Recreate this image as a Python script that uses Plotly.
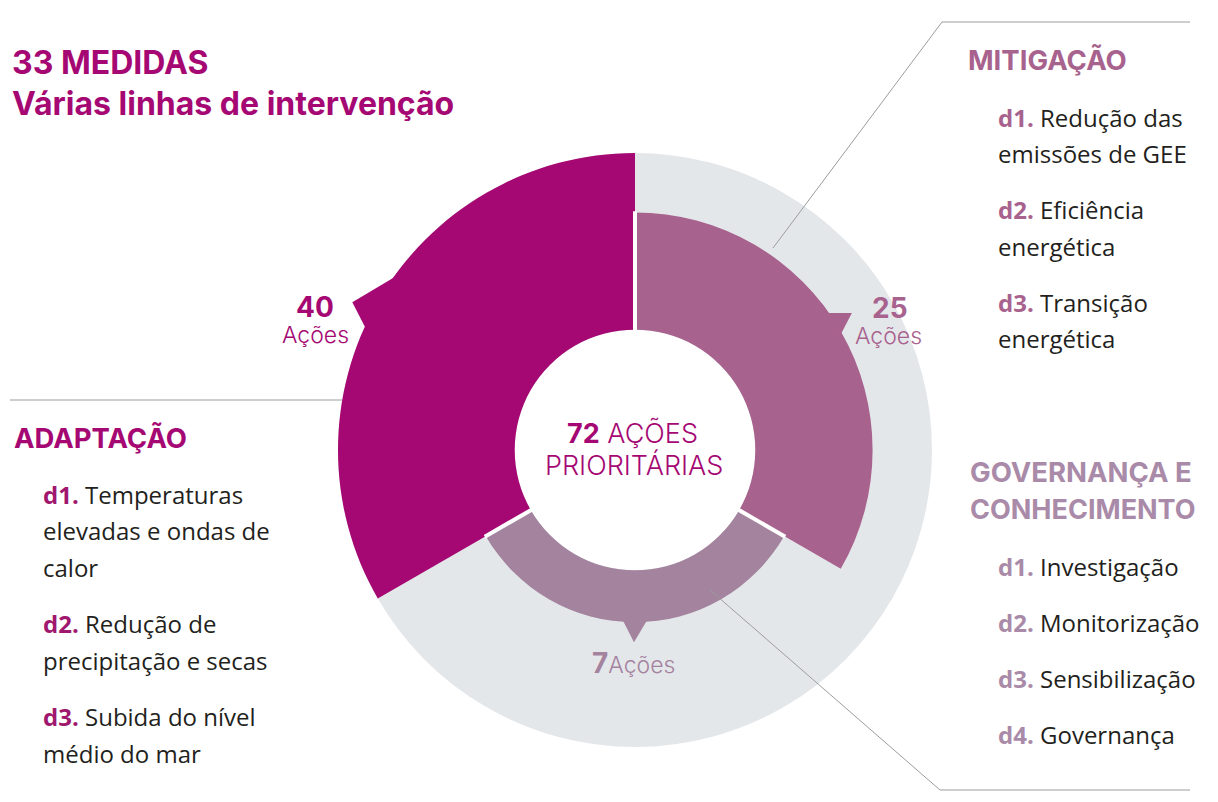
import plotly.graph_objects as go

# ---------------- data ----------------
categories = ["Mitigação", "Governança e Conhecimento", "Adaptação"]
values = [25, 7, 40]                 # ações por eixo
ring_reach = [0.80, 0.58, 1.00]      # outer edge of each sector (grey ring = 1)
total_actions = 72
total_measures = 33

adaptacao_items = [("d1.", ["Temperaturas", "elevadas e ondas de", "calor"]),
                   ("d2.", ["Redução de", "precipitação e secas"]),
                   ("d3.", ["Subida do nível", "médio do mar"])]
mitigacao_items = [("d1.", ["Redução das", "emissões de GEE"]),
                   ("d2.", ["Eficiência", "energética"]),
                   ("d3.", ["Transição", "energética"])]
governanca_items = [("d1.", ["Investigação"]),
                    ("d2.", ["Monitorização"]),
                    ("d3.", ["Sensibilização"]),
                    ("d4.", ["Governança"])]

# ---------------- style ----------------
W, H = 1218, 802
OFF = 8                             # page body margin of the html page
CX, CY, R = 635 - OFF, 450 - OFF, 297   # grey ring centre / radius in px (figure coords)
RMAX = 1.1
RD = R * RMAX
HOLE = 0.405

MAG = "#A50873"
MIT = "#A8628E"
GOV = "#A4839F"
GREY = "#E4E7EA"
MAG_T = "#A50873"
MIT_T = "#A8628E"
GOV_T = "#A98AA8"
MAG_D = "#A0186E"
INK = "#231F20"
LINE = "#9C9C9C"

HEAD = "Inter"
BODY = "Open Sans"

seg_width = 360 / len(categories)
mids = [seg_width / 2 + i * seg_width for i in range(len(categories))]   # 60, 180, 300

fig = go.Figure()

# grey background ring
fig.add_trace(go.Barpolar(theta=mids, r=[1 - HOLE] * 3, base=[HOLE] * 3,
                          width=[seg_width + 1] * 3, marker=dict(color=GREY, line=dict(width=0)),
                          hoverinfo="skip", showlegend=False))
# coloured sectors
fig.add_trace(go.Barpolar(theta=mids, r=[o - HOLE for o in ring_reach], base=[HOLE] * 3,
                          width=[seg_width] * 3, marker=dict(color=[MIT, GOV, MAG], line=dict(width=0)),
                          customdata=values, hovertext=categories,
                          hoverinfo="text", showlegend=False))

# pointers (speech-bubble tails) on each sector
ptr = [(-5.8, 1.0, -2.3), (-4.5, 4.5, 0.3), (-6.0, 7.0, -2.4)]   # base start, base end, tip offset (deg)
tip_px = [19, 20, 22]
for i, (a0, a1, at) in enumerate(ptr):
    o = ring_reach[i]
    rb = o - 0.012
    rt = o + tip_px[i] / R
    fig.add_trace(go.Scatterpolar(r=[rb, rt, rb, rb], theta=[mids[i] + a0, mids[i] + at, mids[i] + a1, mids[i] + a0],
                                  mode="lines", fill="toself", fillcolor=[MIT, GOV, MAG][i],
                                  line=dict(width=0, color=[MIT, GOV, MAG][i]),
                                  hoverinfo="skip", showlegend=False))

# white gaps between neighbouring sectors
n = len(categories)
for i in range(n):
    b = i * seg_width
    reach = min(ring_reach[i], ring_reach[i - 1])
    fig.add_trace(go.Scatterpolar(r=[HOLE - 0.02, reach + 0.004], theta=[b, b], mode="lines",
                                  line=dict(color="white", width=4), hoverinfo="skip", showlegend=False))

fig.update_layout(
    width=W, height=H, margin=dict(l=0, r=0, t=0, b=0),
    paper_bgcolor="white", plot_bgcolor="white",
    polar=dict(
        domain=dict(x=[(CX - RD) / W, (CX + RD) / W], y=[1 - (CY + RD) / H, 1 - (CY - RD) / H]),
        bgcolor="rgba(0,0,0,0)", barmode="overlay",
        radialaxis=dict(visible=False, range=[0, RMAX]),
        angularaxis=dict(visible=False, rotation=90, direction="clockwise"),
    ),
    showlegend=False,
)


def px(x):
    return (x - OFF) / W


def py(y):
    return 1 - (y - OFF) / H


def note(x, y, text, size, color, family=BODY, weight=400, xanchor="left"):
    fig.add_annotation(x=px(x), y=py(y), xref="paper", yref="paper", text=text, showarrow=False,
                       xanchor=xanchor, yanchor="middle", borderpad=0,
                       font=dict(family=family, size=size, color=color, weight=weight))


# titles
note(11, 62, f"{total_measures} MEDIDAS", 32, MAG_T, HEAD, 700)
note(11, 103, "Várias linhas de intervenção", 32, MAG_T, HEAD, 700)

# section headings
note(13, 438, "ADAPTAÇÃO", 27.5, MAG_T, HEAD, 700)
note(967, 60, "MITIGAÇÃO", 27.5, MIT_T, HEAD, 700)
note(969, 472, "GOVERNANÇA E", 27.5, GOV_T, HEAD, 700)
note(969, 509, "CONHECIMENTO", 27, GOV_T, HEAD, 700)


def item_block(items, x, y0, dcolor, line_gap, group_gap):
    y = y0
    for tag, lines in items:
        for k, ln in enumerate(lines):
            if k == 0:
                t = f"<span style='color:{dcolor}'><b>{tag}</b></span> {ln}"
            else:
                t = ln
            note(x, y, t, 24, INK)
            y += line_gap
        y += group_gap - line_gap


item_block(adaptacao_items, 42, 494, MAG_D, 36.5, 56.5)
item_block(mitigacao_items, 997, 117, MIT_T, 36.3, 56.5)
item_block(governanca_items, 997, 566, GOV_T, 36, 56)

# value labels
note(315, 307, f"<b>{values[2]}</b>", 28, MAG, HEAD, 700, "center")
note(315, 335, "Ações", 23, MAG, HEAD, 300, "center")
note(890, 308, f"<b>{values[0]}</b>", 28, MIT, HEAD, 700, "center")
note(889, 336, "Ações", 23, MIT, HEAD, 300, "center")
note(633, 663, f"<span style='font-size:28px'><b>{values[1]}</b></span>Ações", 23, GOV, HEAD, 300, "center")

# centre
note(632, 433, f"<b>{total_actions}</b> AÇÕES", 27, MAG, HEAD, 300, "center")
note(634, 465, "PRIORITÁRIAS", 27, MAG, HEAD, 300, "center")

# leader lines
segs = [((942, 22), (1190, 22)), ((942, 22), (773, 248)),
        ((10, 400), (342, 400)),
        ((710, 590), (940, 790)), ((940, 790), (1190, 790))]
for (x0, y0), (x1, y1) in segs:
    fig.add_shape(type="line", xref="paper", yref="paper", x0=px(x0), y0=py(y0), x1=px(x1), y1=py(y1),
                  line=dict(color=LINE, width=1))

fig.write_html("out.html")
